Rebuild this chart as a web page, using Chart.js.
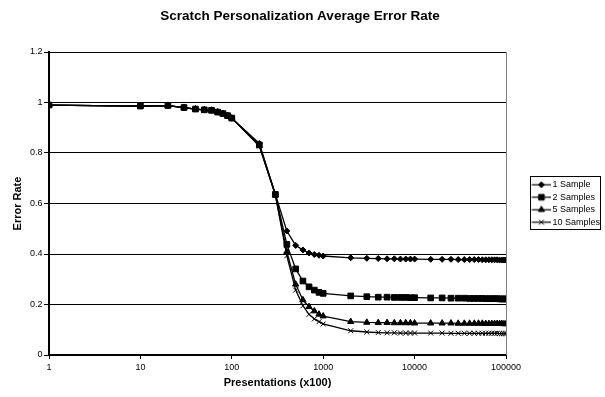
<!DOCTYPE html>
<html>
<head>
<meta charset="utf-8">
<script src="https://cdn.jsdelivr.net/npm/chart.js@4/dist/chart.umd.min.js"></script>
<style>
  html, body { margin: 0; padding: 0; background: #fff; }
  #wrap { width: 605px; height: 397px; position: relative; }
</style>
</head>
<body>
<div id="wrap"><canvas id="c" width="605" height="397"></canvas></div>
<script>
const chartTitle = 'Scratch Personalization Average Error Rate';
const xTitle = 'Presentations (x100)';
const yTitle = 'Error Rate';
const seriesNames = ['1 Sample', '2 Samples', '5 Samples', '10 Samples'];
const xTickValues = [1, 10, 100, 1000, 10000, 100000];
const yTickValues = [0, 0.2, 0.4, 0.6, 0.8, 1, 1.2];

const xValues = [1,10,20,30,40,50,60,70,80,90,100,200,300,400,500,600,700,800,900,1000,
  2000,3000,4000,5000,6000,7000,8000,9000,10000,15000,20000,25000,30000,35000,40000,45000,
  50000,55000,60000,65000,70000,75000,80000,85000,90000,95000,100000];

const oneSample = [0.990,0.986,0.988,0.980,0.974,0.971,0.969,0.962,0.956,0.948,0.938,0.838,0.636,
  0.491,0.434,0.416,0.404,0.398,0.395,0.392,
  0.385,0.383,0.382,0.381,0.381,0.380,0.380,0.380,0.380,
  0.379,0.379,0.379,0.378,0.378,0.378,0.378,0.378,0.377,0.377,0.377,0.377,0.377,0.377,0.376,0.376,0.376,0.376];

const twoSamples = [0.990,0.986,0.988,0.980,0.974,0.971,0.969,0.962,0.956,0.948,0.938,0.832,0.636,
  0.438,0.341,0.293,0.270,0.257,0.248,0.244,
  0.234,0.231,0.229,0.229,0.228,0.228,0.228,0.227,0.227,
  0.226,0.226,0.225,0.225,0.225,0.224,0.224,0.224,0.224,0.223,0.223,0.223,0.223,0.223,0.222,0.222,0.222,0.222];

const fiveSamples = [0.990,0.986,0.988,0.980,0.974,0.971,0.969,0.962,0.956,0.948,0.938,0.830,0.634,
  0.409,0.280,0.218,0.191,0.174,0.161,0.154,
  0.132,0.129,0.128,0.128,0.127,0.127,0.127,0.127,0.126,
  0.126,0.126,0.126,0.125,0.125,0.125,0.125,0.125,0.125,0.124,0.124,0.124,0.124,0.124,0.124,0.124,0.123,0.123];

const tenSamples = [0.990,0.986,0.988,0.980,0.974,0.971,0.969,0.962,0.956,0.948,0.938,0.828,0.632,
  0.393,0.257,0.195,0.161,0.143,0.132,0.123,
  0.096,0.091,0.089,0.088,0.088,0.087,0.087,0.087,0.087,
  0.087,0.087,0.086,0.086,0.086,0.086,0.086,0.086,0.086,0.086,0.086,0.086,0.086,0.086,0.085,0.085,0.085,0.085];

const seriesValues = [oneSample, twoSamples, fiveSamples, tenSamples];
const pointStyles = ['rectRot', 'rect', 'triangle', 'crossRot'];
const pointRadii = [3, 4, 3.6, 3.5];

const FONT = "'Liberation Sans', Arial, Helvetica, sans-serif";

function makeLegendIcon(style, radius) {
  const cv = document.createElement('canvas');
  cv.width = 45; cv.height = 12;
  const ctx = cv.getContext('2d');
  ctx.strokeStyle = '#000';
  ctx.fillStyle = '#000';
  ctx.lineWidth = 1.2;
  ctx.beginPath();
  ctx.moveTo(25.5, 6);
  ctx.lineTo(45, 6);
  ctx.stroke();
  ctx.lineWidth = 1;
  Chart.helpers.drawPoint(ctx, {pointStyle: style, radius: radius, rotation: 0, borderWidth: 1}, 35.2, 6);
  return cv;
}
const legendIcons = pointStyles.map((s, i) => makeLegendIcon(s, pointRadii[i]));

const datasets = seriesNames.map((name, i) => ({
  label: name,
  data: xValues.map((x, j) => ({x: x, y: seriesValues[i][j]})),
  borderColor: '#000',
  backgroundColor: '#000',
  borderWidth: 1.3,
  pointStyle: pointStyles[i],
  pointRadius: pointRadii[i],
  pointBorderWidth: 1,
  pointBackgroundColor: '#000',
  pointBorderColor: '#000',
  tension: 0,
  fill: false
}));

const framePlugin = {
  id: 'frame',
  afterDraw(chart) {
    const {ctx, chartArea} = chart;
    ctx.save();
    ctx.strokeStyle = '#808080';
    ctx.lineWidth = 1;
    ctx.beginPath();
    const rx = Math.round(chartArea.right) + 0.5;
    ctx.moveTo(rx, chartArea.top);
    ctx.lineTo(rx, chartArea.bottom);
    ctx.stroke();
    const lg = chart.legend;
    if (lg && lg.legendHitBoxes && lg.legendHitBoxes.length) {
      const hb = lg.legendHitBoxes;
      const x0 = Math.round(hb[0].left + 20) + 0.5;
      const y0 = Math.round(hb[0].top - 4.5) + 0.5;
      const last = hb[hb.length - 1];
      const y1 = Math.round(last.top + last.height + 2.5) + 0.5;
      const x1 = Math.round(lg.right) + 0.5;
      ctx.strokeStyle = '#000';
      ctx.strokeRect(x0, y0, x1 - x0, y1 - y0);
    }
    ctx.restore();
  }
};

new Chart(document.getElementById('c'), {
  type: 'line',
  data: { datasets: datasets },
  plugins: [framePlugin],
  options: {
    responsive: false,
    animation: false,
    events: [],
    layout: { padding: { left: 0, right: 5, top: 0, bottom: 0 } },
    plugins: {
      title: {
        display: true,
        text: chartTitle,
        color: '#000',
        font: { family: FONT, size: 13.5, weight: 'bold' },
        padding: { top: 8.6, bottom: 27.2 }
      },
      legend: {
        display: true,
        position: 'right',
        fullSize: false,
        maxWidth: 94,
        labels: {
          color: '#000',
          font: { family: FONT, size: 9 },
          usePointStyle: true,
          pointStyleWidth: 38.5,
          padding: 3.5,
          generateLabels(chart) {
            const items = Chart.defaults.plugins.legend.labels.generateLabels(chart);
            items.forEach((it, i) => { it.pointStyle = legendIcons[i]; });
            return items;
          }
        }
      },
      tooltip: { enabled: false }
    },
    scales: {
      x: {
        type: 'logarithmic',
        min: 1,
        max: 100000,
        afterBuildTicks(scale) { scale.ticks = xTickValues.map(v => ({value: v})); },
        afterFit(scale) { scale.height = 42; },
        ticks: {
          autoSkip: false,
          maxRotation: 0,
          color: '#000',
          padding: 3.3,
          font: { family: FONT, size: 9 },
          callback: (v) => String(v)
        },
        grid: { display: true, drawOnChartArea: false, drawTicks: true, tickLength: 4, color: '#000', lineWidth: 1 },
        border: { display: true, color: '#000', width: 2 },
        title: {
          display: true,
          text: xTitle,
          color: '#000',
          font: { family: FONT, size: 11, weight: 'bold' },
          padding: { top: 0, bottom: 7.7 }
        }
      },
      y: {
        type: 'linear',
        min: 0,
        max: 1.2,
        afterBuildTicks(scale) { scale.ticks = yTickValues.map(v => ({value: v})); },
        afterFit(scale) { scale.width = 49; },
        ticks: {
          color: '#000',
          padding: 1.5,
          font: { family: FONT, size: 9 },
          callback: (v) => String(+(+v).toFixed(1))
        },
        grid: { display: true, drawTicks: true, tickLength: 5, color: '#000', lineWidth: 1 },
        border: { display: true, color: '#000', width: 2 },
        title: {
          display: true,
          text: yTitle,
          color: '#000',
          font: { family: FONT, size: 11, weight: 'bold' },
          padding: { top: 11.4, bottom: 0 }
        }
      }
    }
  }
});
</script>
</body>
</html>
